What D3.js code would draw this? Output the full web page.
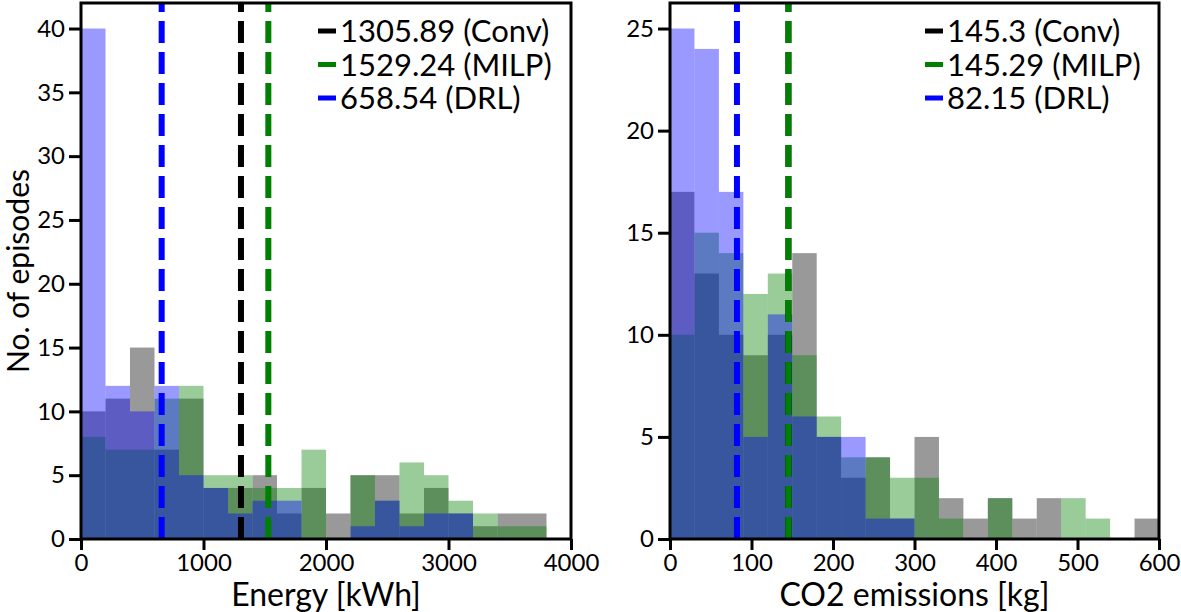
<!DOCTYPE html>
<html>
<head>
<meta charset="utf-8">
<script src="https://cdn.jsdelivr.net/npm/d3@7"></script>
<style>
  html, body { margin: 0; padding: 0; background: #fff; }
  svg { display: block; font-family: Lato, "Open Sans", sans-serif; }
</style>
</head>
<body>
<svg id="chart" width="1181" height="612"></svg>
<script>
// ---------- data ----------
const energyEdges = [0,200,400,600,800,1000,1200,1400,1600,1800,2000,2200,2400,2600,2800,3000,3200,3400,3600,3800];
const energyConv  = [10,11,15,7,11,4,4,5,2,4,2,5,5,2,4,2,1,2,2];
const energyMILP  = [8,7,7,11,12,5,5,4,4,7,0,5,3,6,5,3,2,1,1];
const energyDRL   = [40,12,10,12,5,4,2,3,3,0,0,1,3,1,2,2,0,0,0];

const co2Edges = [0,30,60,90,120,150,180,210,240,270,300,330,360,390,420,450,480,510,540,570,600];
const co2Conv  = [17,13,10,9,10,14,5,3,4,1,5,2,1,2,1,2,0,0,0,1];
const co2MILP  = [10,15,14,12,13,9,6,4,4,3,3,1,0,2,0,0,2,1,0,0];
const co2DRL   = [25,24,17,5,11,6,5,5,1,1,0,0,0,0,0,0,0,0,0,0];

const seriesNames  = ["Conv", "MILP", "DRL"];
const seriesColors = ["#000000", "#008000", "#0000ff"];

const energyMeans = [1305.89, 1529.24, 658.54];
const co2Means    = [145.3, 145.29, 82.15];
const energyMeanLabels = ["1305.89", "1529.24", "658.54"];
const co2MeanLabels    = ["145.3", "145.29", "82.15"];

const energyXTicks = [0,1000,2000,3000,4000];
const energyYTicks = [0,5,10,15,20,25,30,35,40];
const co2XTicks = [0,100,200,300,400,500,600];
const co2YTicks = [0,5,10,15,20,25];

// ---------- drawing ----------
const svg = d3.select("#chart");

function panel(opts) {
  const g = svg.append("g");
  const x = d3.scaleLinear().domain(opts.xDomain).range([opts.left, opts.right]);
  const y = d3.scaleLinear().domain(opts.yDomain).range([opts.bottom, opts.top]);

  // histograms
  opts.series.forEach((counts, si) => {
    g.append("g").selectAll("rect")
      .data(counts.map((c, i) => ({c, x0: opts.edges[i], x1: opts.edges[i + 1]})).filter(d => d.c > 0))
      .join("rect")
      .attr("x", d => x(d.x0))
      .attr("width", d => x(d.x1) - x(d.x0))
      .attr("y", d => y(d.c))
      .attr("height", d => y(0) - y(d.c))
      .attr("fill", seriesColors[si])
      .attr("fill-opacity", 0.4);
  });

  // mean lines
  opts.means.forEach((m, si) => {
    g.append("line")
      .attr("x1", x(m)).attr("x2", x(m))
      .attr("y1", opts.bottom).attr("y2", opts.top)
      .attr("stroke", seriesColors[si])
      .attr("stroke-width", 6)
      .attr("stroke-dasharray", "22,9");
  });

  // axes
  const xAxis = d3.axisBottom(x).tickValues(opts.xTicks).tickFormat(d3.format("d")).tickSize(11).tickPadding(4);
  const yAxis = d3.axisLeft(y).tickValues(opts.yTicks).tickFormat(d3.format("d")).tickSize(12).tickPadding(4);
  const gx = g.append("g").attr("transform", `translate(0,${opts.bottom})`).call(xAxis);
  const gy = g.append("g").attr("transform", `translate(${opts.left},0)`).call(yAxis);
  [gx, gy].forEach(a => {
    a.select(".domain").remove();
    a.selectAll(".tick line").attr("stroke", "#000").attr("stroke-width", 3);
    a.selectAll(".tick text").attr("fill", "#000").style("font-size", "24px").style("font-family", "Lato, sans-serif");
  });

  // frame
  g.append("rect")
    .attr("x", opts.left).attr("y", opts.top)
    .attr("width", opts.right - opts.left).attr("height", opts.bottom - opts.top)
    .attr("fill", "none").attr("stroke", "#000").attr("stroke-width", 3);

  // x label
  g.append("text")
    .attr("x", (opts.left + opts.right) / 2).attr("y", 606)
    .attr("text-anchor", "middle")
    .style("font-size", "32px")
    .text(opts.xLabel);

  // legend
  opts.means.forEach((m, si) => {
    const ly = opts.legendY + si * 33.5;
    g.append("line")
      .attr("x1", opts.legendX).attr("x2", opts.legendX + 18)
      .attr("y1", ly).attr("y2", ly)
      .attr("stroke", seriesColors[si]).attr("stroke-width", 5);
    g.append("text")
      .attr("x", opts.legendX + 22).attr("y", ly)
      .attr("dy", "0.36em")
      .style("font-size", "31px")
      .text(`${opts.meanLabels[si]} (${seriesNames[si]})`);
  });
}

panel({
  left: 81, right: 571, top: 3, bottom: 539,
  xDomain: [0, 4000], yDomain: [0, 42],
  edges: energyEdges, series: [energyConv, energyMILP, energyDRL],
  means: energyMeans, meanLabels: energyMeanLabels,
  xTicks: energyXTicks, yTicks: energyYTicks,
  xLabel: "Energy [kWh]",
  legendX: 318, legendY: 31
});

panel({
  left: 670, right: 1159, top: 3, bottom: 539,
  xDomain: [0, 600], yDomain: [0, 26.25],
  edges: co2Edges, series: [co2Conv, co2MILP, co2DRL],
  means: co2Means, meanLabels: co2MeanLabels,
  xTicks: co2XTicks, yTicks: co2YTicks,
  xLabel: "CO2 emissions [kg]",
  legendX: 925, legendY: 31
});

// y label
svg.append("text")
  .attr("transform", "translate(29,271) rotate(-90)")
  .attr("text-anchor", "middle")
  .style("font-size", "30px")
  .text("No. of episodes");
</script>
</body>
</html>
